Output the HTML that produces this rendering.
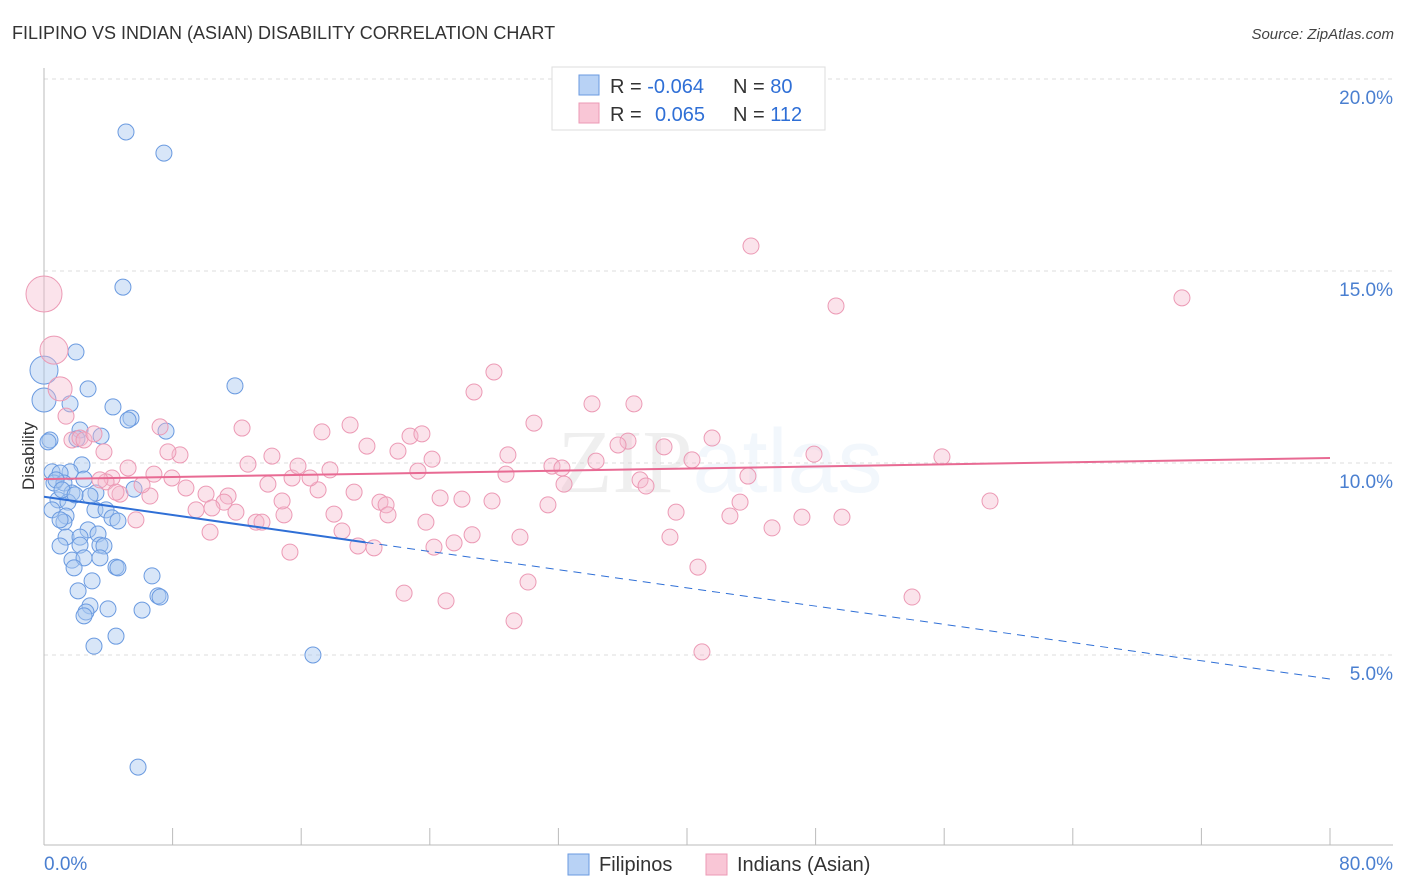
<!DOCTYPE html>
<html><head><meta charset="utf-8"><style>
body{margin:0;background:#fff;font-family:"Liberation Sans",sans-serif;}
svg{display:block}
</style></head><body>
<svg id="chart" width="1406" height="892" xmlns="http://www.w3.org/2000/svg">
<text x="12" y="39" font-size="18" fill="#333">FILIPINO VS INDIAN (ASIAN) DISABILITY CORRELATION CHART</text>
<text x="1394" y="39" font-size="15" fill="#444" text-anchor="end" font-style="italic">Source: ZipAtlas.com</text>
<text x="720" y="492" font-size="90" text-anchor="middle" fill="#000" opacity="0.06"><tspan font-family="Liberation Serif">ZIP</tspan><tspan fill="#3a7fd0" font-family="Liberation Sans">atlas</tspan></text>
<g id="grid"></g>
<g id="axes"></g>
<g id="pts"></g>
<g id="trend"></g>
<g>
<rect x="552" y="67" width="273" height="63" fill="#fff" stroke="#ddd"/>
<rect x="579" y="75" width="20" height="20" fill="#b8d2f5" stroke="#6a9ae0"/>
<rect x="579" y="103" width="20" height="20" fill="#f9c6d6" stroke="#ec9ab5"/>
<text x="610" y="93" font-size="20" fill="#333">R = <tspan fill="#2f6fd6">-0.064</tspan><tspan x="733">N = </tspan><tspan fill="#2f6fd6">80</tspan></text>
<text x="610" y="121" font-size="20" fill="#333">R = <tspan x="655" fill="#2f6fd6">0.065</tspan><tspan x="733">N = </tspan><tspan fill="#2f6fd6">112</tspan></text>
</g>
<g>
<rect x="568" y="854" width="21" height="21" fill="#b8d2f5" stroke="#6a9ae0"/>
<text x="599" y="871" font-size="20" fill="#333">Filipinos</text>
<rect x="706" y="854" width="21" height="21" fill="#f9c6d6" stroke="#ec9ab5"/>
<text x="737" y="871" font-size="20" fill="#333">Indians (Asian)</text>
</g>
<text transform="translate(34,456) rotate(-90)" font-size="17" fill="#333" text-anchor="middle">Disability</text>
</svg>
<script>
const xTicks=[0,80];
const yTicks=[5,10,15,20];
const blueX=[5.10,7.46,4.91,1.99,11.88,2.74,0,0,1.62,4.29,5.41,5.23,7.59,2.24,3.55,2.05,0.37,0.25,2.36,1.62,0.50,1.00,0.62,1.24,2.49,3.23,1.74,5.60,0.87,1.49,0.50,3.17,3.86,4.23,4.60,1.37,1.24,1.00,2.74,3.36,1.37,2.24,1.00,2.24,3.48,3.73,1.74,2.49,3.48,1.87,4.48,4.60,6.72,2.99,2.12,7.09,7.22,2.86,3.98,6.10,2.61,2.49,4.48,3.11,16.73,5.85,0.75,1.12,2.86,1.93];
const blueY=[18.62,18.07,14.58,12.89,12.01,11.93,12.42,11.64,11.54,11.46,11.17,11.12,10.83,10.86,10.70,10.63,10.60,10.55,9.95,9.77,9.77,9.74,9.48,9.48,9.58,9.22,9.22,9.32,9.04,8.98,8.78,8.78,8.78,8.57,8.49,8.62,8.46,8.52,8.26,8.15,8.07,8.07,7.84,7.86,7.86,7.84,7.47,7.53,7.53,7.27,7.29,7.27,7.06,6.93,6.67,6.54,6.51,6.28,6.20,6.17,6.12,6.02,5.49,5.23,5.00,2.08,9.56,9.30,9.14,9.17];
const blueR=[8,8,8,8,8,8,14,12,8,8,8,8,8,8,8,8,8,8,8,8,8,8,8,8,8,8,8,8,8,8,8,8,8,8,8,8,8,8,8,8,8,8,8,8,8,8,8,8,8,8,8,8,8,8,8,8,8,8,8,8,8,8,8,8,8,8,8,8,8,8];
const pinkX=[0,0.62,1.00,1.37,1.74,2.24,2.49,3.11,3.73,7.22,8.46,12.32,14.18,19.04,17.29,20.09,22.02,22.77,23.51,24.14,23.26,26.75,27.99,30.48,28.86,28.74,31.60,32.22,32.35,34.34,34.09,36.70,36.33,35.71,38.57,37.08,37.45,40.31,41.56,43.98,49.27,70.79,43.79,47.90,55.86,58.85,43.30,45.29,47.15,49.64,42.67,39.32,38.94,40.68,40.93,54.00,29.61,31.35,30.11,29.24,25.01,22.40,25.51,24.26,26.63,23.76,26.00,27.87,24.64,20.90,21.28,21.40,19.29,18.04,18.54,19.53,20.53,15.30,14.93,14.81,15.43,17.05,16.55,15.80,17.79,13.19,13.56,11.94,12.69,13.93,11.45,11.20,10.08,10.45,9.46,10.33,8.83,7.96,6.84,6.59,6.10,5.23,4.23,3.86,4.73,5.72,4.48,3.48,7.71];
const pinkY=[14.40,12.94,11.93,11.22,10.60,10.65,10.60,10.76,10.29,10.94,10.21,10.91,10.18,10.99,10.81,10.44,10.31,10.70,10.76,10.10,9.79,11.85,12.37,11.04,10.21,9.71,9.92,9.87,9.45,10.05,11.54,11.54,10.57,10.47,10.42,9.56,9.40,10.08,10.65,15.65,14.09,14.30,9.66,10.23,10.16,9.01,8.98,8.31,8.59,8.59,8.62,8.72,8.07,7.29,5.08,6.51,8.07,8.91,6.90,5.89,6.41,6.61,7.92,7.81,8.13,8.46,9.06,9.01,9.09,8.98,8.91,8.65,9.24,8.67,8.23,7.84,7.79,7.68,8.65,9.01,9.61,9.30,9.61,9.92,9.82,8.46,8.46,8.72,9.97,9.45,9.14,8.98,9.19,8.83,8.78,8.20,9.35,9.61,9.71,9.14,9.43,9.87,9.61,9.51,9.19,8.52,9.24,9.56,10.29];
const pinkR=[18,14,12];
const blueTrend=[9.12,4.375]; const blueSolidEnd=20;
const pinkTrend=[9.58,10.13];
const NS="http://www.w3.org/2000/svg";
const X0=44,X1=1330,Y0=847,PY=38.4;
const sx=v=>X0+(v/80)*(X1-X0);
const sy=v=>Y0-v*PY;
function mk(tag,attrs,parent){const e=document.createElementNS(NS,tag);for(const k in attrs)e.setAttribute(k,attrs[k]);parent.appendChild(e);return e;}
const grid=document.getElementById('grid'),axes=document.getElementById('axes'),pts=document.getElementById('pts'),trend=document.getElementById('trend');
yTicks.forEach(t=>{
 const l=mk('line',{x1:44,x2:1393,y1:sy(t),y2:sy(t),stroke:'#ddd','stroke-dasharray':'4,4'},grid);
 
 
 const tx=mk('text',{x:1393,y:sy(t)+25,'font-size':19,fill:'#4a7fd0','text-anchor':'end'},axes);
 tx.textContent=t.toFixed(1)+'%';
 
 
});
mk('line',{x1:44,x2:44,y1:68,y2:845,stroke:'#bbb'},axes);
mk('line',{x1:44,x2:1393,y1:845,y2:845,stroke:'#bbb'},axes);
for(let i=0;i<=10;i++){const x=sx(i*8);mk('line',{x1:x,x2:x,y1:828,y2:845,stroke:'#bbb'},axes);}
const xl=mk('text',{x:44,y:870,'font-size':19,fill:'#4a7fd0'},axes);xl.textContent=xTicks[0].toFixed(1)+'%';


const xr=mk('text',{x:1393,y:870,'font-size':19,fill:'#4a7fd0','text-anchor':'end'},axes);xr.textContent=xTicks[1].toFixed(1)+'%';


blueX.forEach((v,i)=>{
 const c=mk('circle',{cx:sx(v),cy:sy(blueY[i]),r:blueR[i]||8,fill:'rgba(168,200,240,0.45)',stroke:'#6a9ae0','stroke-width':1},pts);
 
 
});
pinkX.forEach((v,i)=>{
 const c=mk('circle',{cx:sx(v),cy:sy(pinkY[i]),r:pinkR[i]||8,fill:'rgba(245,184,204,0.4)',stroke:'#ec9ab5','stroke-width':1},pts);
 
 
});
const by=x=>blueTrend[0]+(blueTrend[1]-blueTrend[0])*x/80;
const b1=mk('line',{x1:sx(0),y1:sy(by(0)),x2:sx(blueSolidEnd),y2:sy(by(blueSolidEnd)),stroke:'#2f6fd6','stroke-width':2},trend);


const b2=mk('line',{x1:sx(blueSolidEnd),y1:sy(by(blueSolidEnd)),x2:sx(80),y2:sy(by(80)),stroke:'#2f6fd6','stroke-width':1,'stroke-dasharray':'8,6'},trend);


const p1=mk('line',{x1:sx(0),y1:sy(pinkTrend[0]),x2:sx(80),y2:sy(pinkTrend[1]),stroke:'#e86a93','stroke-width':2},trend);


</script>
</body></html>
